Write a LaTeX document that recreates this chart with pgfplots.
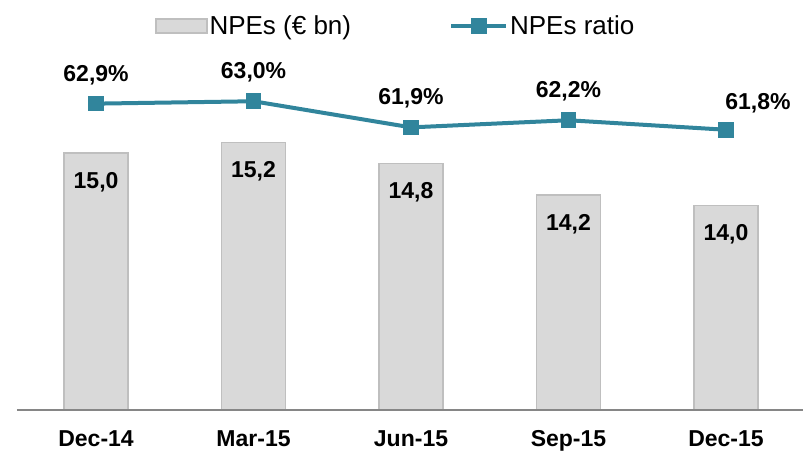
\documentclass[border=0pt]{standalone}
\usepackage{fontspec}
\setmainfont{Liberation Sans}
\usepackage{pgfplots}
\usepackage{pgfplotstable}
\pgfplotsset{compat=1.18}
\definecolor{barfill}{HTML}{D9D9D9}
\definecolor{barline}{HTML}{BFBFBF}
\definecolor{linecol}{HTML}{31859C}
\definecolor{axiscol}{HTML}{868686}

\pgfplotstableread{
x v lab
0 15.0 15,0
1 15.2 15,2
2 14.8 14,8
3 14.2 14,2
4 14.0 14,0
}\bars
\pgfplotstableread{
x r
0 62.9
1 63.0
2 61.9
3 62.2
4 61.8
}\ratio
\pgfplotstableread{
x r lab
0 62.9 62,9\%
1 63.0 63,0\%
2 61.9 61,9\%
3 62.2 62,2\%
}\ratioA
\pgfplotstableread{
x r lab
4 61.8 61,8\%
}\ratioB

\newcommand{\lblfont}{\fontsize{23}{27}\selectfont\bfseries}

\begin{document}
\begin{tikzpicture}
\begin{axis}[
  at={(17pt,52pt)}, anchor=south west,
  scale only axis, width=786pt, height=370pt,
  xmin=-0.502, xmax=4.489,
  ymin=10.1, ymax=17.15,
  axis x line*=bottom, axis y line=none,
  x axis line style={draw=axiscol, line width=2pt, -},
  xtick={0,1,2,3,4},
  xticklabels={Dec-14,Mar-15,Jun-15,Sep-15,Dec-15},
  major tick length=0pt,
  xticklabel style={font=\lblfont, anchor=base, yshift=-36.7pt},
  axis on top,
  legend columns=2,
  legend style={draw=none, fill=none, inner sep=0pt, outer sep=0pt,
    font=\fontsize{26}{30}\selectfont,
    at={(axis description cs:0,1)}, anchor=west, xshift=138pt, yshift=14pt,
    /tikz/every even column/.append style={column sep=96pt},
    cells={anchor=west}},
]
\addplot[ybar, bar width=0.406, fill=barfill, draw=barline, line width=1.5pt,
  nodes near coords, point meta=explicit symbolic,
  every node near coord/.append style={font=\lblfont, anchor=base, yshift=-35.5pt, black},
  legend image code/.code={
    \draw[fill=barfill, draw=barline, line width=1.5pt] (0pt,-7pt) rectangle (51pt,7pt);}]
  table[x=x, y=v, meta=lab]{\bars};
\addlegendentry{NPEs (€ bn)}
\addlegendimage{legend image code/.code={
  \draw[linecol, line width=4pt] (0pt,0pt) -- (55pt,0pt);
  \fill[linecol] (20pt,-7.5pt) rectangle (35pt,7.5pt);}}
\addlegendentry{NPEs ratio}
\end{axis}
\begin{axis}[
  at={(17pt,52pt)}, anchor=south west,
  scale only axis, width=786pt, height=370pt,
  xmin=-0.502, xmax=4.489,
  ymin=50, ymax=65.58,
  hide axis, clip=false,
]
\addplot[linecol, line width=4pt, mark=square*, mark size=7.3pt,
  mark options={line width=0pt, fill=linecol, draw=linecol}]
  table[x=x, y=r]{\ratio};
\addplot[draw=none, mark=none, nodes near coords, point meta=explicit symbolic,
  every node near coord/.append style={font=\lblfont, anchor=base, yshift=22.5pt, black}]
  table[x=x, y=r, meta=lab]{\ratioA};
\addplot[draw=none, mark=none, nodes near coords, point meta=explicit symbolic,
  every node near coord/.append style={font=\lblfont, anchor=base, yshift=20pt, xshift=32pt, black}]
  table[x=x, y=r, meta=lab]{\ratioB};
\end{axis}
\pgfresetboundingbox
\path (0pt,0pt) rectangle (808pt,462pt);
\end{tikzpicture}
\end{document}
